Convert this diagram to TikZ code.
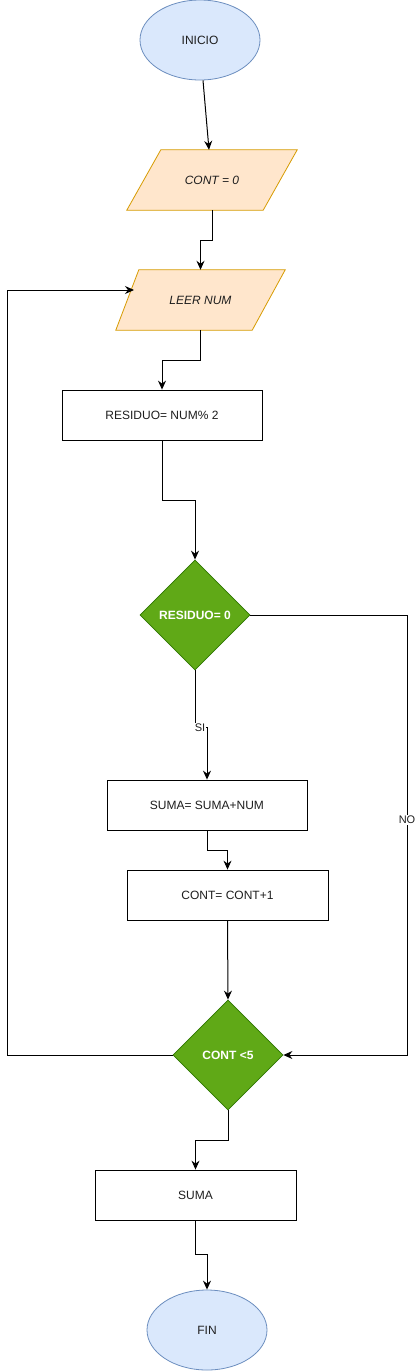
\documentclass[tikz,border=0pt]{standalone}
\usepackage{fontspec}
\setmainfont{Liberation Sans}
\usetikzlibrary{shapes.geometric,arrows.meta,backgrounds}
\definecolor{elfill}{HTML}{DAE8FC}
\definecolor{elline}{HTML}{6C8EBF}
\definecolor{pafill}{HTML}{FFE6CC}
\definecolor{paline}{HTML}{D79B00}
\definecolor{dmfill}{HTML}{60A917}
\definecolor{dmline}{HTML}{2D7600}
\definecolor{txt}{HTML}{1E1E1E}
\tikzset{
  base/.style={font=\fontsize{12pt}{14pt}\selectfont, text=txt, inner sep=0pt},
  term/.style={base, ellipse, draw=elline, fill=elfill, line width=0.8pt, minimum width=120pt, minimum height=80pt},
  iobox/.style={base, rectangle, minimum height=60pt, font=\fontsize{12pt}{14pt}\selectfont\itshape},
  procbox/.style={base, rectangle, draw=black, fill=white, line width=0.8pt, minimum width=200pt, minimum height=50pt},
  decis/.style={base, diamond, draw=dmline, fill=dmfill, line width=0.8pt, minimum width=110pt, minimum height=110pt, text=white, font=\fontsize{12pt}{14pt}\selectfont\bfseries},
  arr/.style={draw=black, line width=1pt, -{Stealth[length=9pt,width=8pt,inset=3pt]}},
  lbl/.style={font=\fontsize{11pt}{13pt}\selectfont, text=txt, fill=white, inner sep=0.8pt}
}
\begin{document}
\begin{tikzpicture}[x=1pt,y=-1pt]
\useasboundingbox (0,0) rectangle (416,1371);
% nodes
\node[term] (inicio) at (200,40) {INICIO};
\node[iobox, minimum width=170pt] (cont0) at (212,180) {CONT = 0};
\node[iobox, minimum width=169pt] (leer) at (200.5,300) {LEER NUM};
\node[procbox] (res) at (162,415) {RESIDUO= NUM\% 2};
\node[decis] (d1) at (195,615) {RESIDUO= 0};
\node[procbox] (suma1) at (207,805) {SUMA= SUMA+NUM};
\node[procbox, minimum width=201pt] (cont1) at (227.5,895) {CONT= CONT+1};
\node[decis] (d2) at (228,1055) {CONT {<}5};
\node[procbox, minimum width=201pt] (sumaf) at (195.5,1195) {SUMA};
\node[term] (fin) at (207,1330) {FIN};
% background and parallelograms behind text
\begin{scope}[on background layer]
\fill[white] (0,0) rectangle (416,1371);
\draw[draw=paline, fill=pafill, line width=0.8pt]
  ([xshift=34pt]cont0.north west) -- (cont0.north east) -- ([xshift=-34pt]cont0.south east) -- (cont0.south west) -- cycle;
\draw[draw=paline, fill=pafill, line width=0.8pt]
  ([xshift=23pt]leer.north west) -- (leer.north east) -- ([xshift=-33pt]leer.south east) -- (leer.south west) -- cycle;
\end{scope}
\coordinate (leerin) at (134,290);
% connectors
\draw[arr] ([xshift=3pt]inicio.south) -- ([xshift=-3pt]cont0.north);
\draw[arr] (cont0.south) -- ++(0,30) -| (leer.north);
\draw[arr] (leer.south) -- ++(0,30) -| (res.north);
\draw[arr] (res.south) -- ++(0,60) -| (d1.north);
\draw[arr] (d1.south) -- ++(0,57) coordinate (sicorner) -| (suma1.north);
\node[lbl] at ([xshift=5pt]sicorner) {SI};
\draw[arr] (suma1.south) -- ++(0,20) -| (cont1.north);
\draw[arr] (cont1.south) -- (d2.north);
\draw[arr] (d1.east) -- (407,615) |- (d2.east);
\node[lbl] at (407,820) {NO};
\draw[arr] (d2.west) -- (7,1055) |- (leerin);
\draw[arr] (d2.south) -- ++(0,30) -| (sumaf.north);
\draw[arr] (sumaf.south) -- ++(0,34) -| (fin.north);
\end{tikzpicture}
\end{document}
